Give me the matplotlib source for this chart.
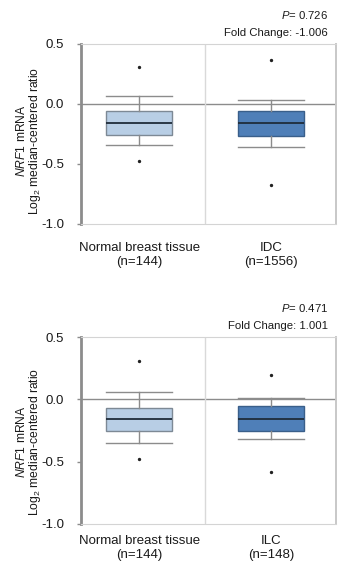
import matplotlib
matplotlib.use("Agg")
import matplotlib.pyplot as plt

plt.rcParams['font.family'] = ['Liberation Sans', 'DejaVu Sans']
plt.rcParams['mathtext.fontset'] = 'custom'
plt.rcParams['mathtext.rm'] = 'Liberation Sans'
plt.rcParams['mathtext.it'] = 'Liberation Sans:italic'

# --- data ---
groups_top = ["Normal breast tissue\n(n=144)", "IDC\n(n=1556)"]
groups_bot = ["Normal breast tissue\n(n=144)", "ILC\n(n=148)"]

# whisker low, q1, median, q3, whisker high
whislo_top = [-0.343, -0.355]
q1_top = [-0.255, -0.263]
med_top = [-0.157, -0.158]
q3_top = [-0.062, -0.056]
whishi_top = [0.063, 0.034]
fliers_top = [[0.305, -0.473], [0.367, -0.672]]

whislo_bot = [-0.347, -0.316]
q1_bot = [-0.258, -0.258]
med_bot = [-0.155, -0.155]
q3_bot = [-0.066, -0.056]
whishi_bot = [0.061, 0.012]
fliers_bot = [[0.307, -0.476], [0.198, -0.583]]

pvals = ["0.726", "0.471"]
fold = ["-1.006", "1.001"]

face_cols = ["#b8cee5", "#4f7fb8"]
edge_cols = ["#7d8995", "#3a5f8a"]


def stats(lo, a, m, b, hi, fl):
    return [dict(whislo=lo[i], q1=a[i], med=m[i], q3=b[i], whishi=hi[i],
                 fliers=fl[i]) for i in range(len(m))]


fig = plt.figure(figsize=(3.39, 5.67), dpi=100)
W, H = 339, 567


def px_axes(l, t, r, b):
    return fig.add_axes([l / W, 1 - b / H, (r - l) / W, (b - t) / H])


ax1 = px_axes(81, 44, 336, 224)
ax2 = px_axes(81, 337, 336, 524)

panels = [
    (ax1, stats(whislo_top, q1_top, med_top, q3_top, whishi_top, fliers_top), groups_top, 0, 13, 141),
    (ax2, stats(whislo_bot, q1_bot, med_bot, q3_bot, whishi_bot, fliers_bot), groups_bot, 1, 8, 442),
]

for ax, st, labels, k, xpad, ylab_y in panels:
    ax.axhline(0, color="#8c8c8c", lw=1, zorder=1)
    ax.axvline(0.5, color="#d9d9d9", lw=1, zorder=1)
    bp = ax.bxp(st, positions=[0, 1], widths=0.5, capwidths=0.5,
                patch_artist=True, showfliers=True,
                whiskerprops=dict(color="#8c8c8c", lw=1),
                capprops=dict(color="#8c8c8c", lw=1),
                medianprops=dict(color="#1f2c3a", lw=1.3),
                flierprops=dict(marker="o", markersize=1.4,
                                markerfacecolor="#222222",
                                markeredgecolor="#222222"))
    for i, box in enumerate(bp["boxes"]):
        box.set_facecolor(face_cols[i])
        box.set_edgecolor(edge_cols[i])
        box.set_linewidth(1)
        box.set_zorder(2)

    ax.set_xlim(-0.44, 1.49)
    ax.set_ylim(-1.0, 0.5)
    ax.set_yticks([0.5, 0.0, -0.5, -1.0])
    ax.set_yticklabels(["0.5", "0.0", "-0.5", "-1.0"])
    ax.set_xticks([0, 1])
    ax.set_xticklabels(labels, fontsize=9.5, color="#1a1a1a")
    ax.tick_params(axis="x", length=0, pad=xpad)
    ax.tick_params(axis="y", length=3, width=1, color="#8c8c8c",
                   labelsize=9.5, pad=9, labelcolor="#1a1a1a")

    ax.spines["left"].set_color("#8c8c8c")
    ax.spines["left"].set_linewidth(2)
    ax.spines["bottom"].set_color("#d4d4d4")
    ax.spines["top"].set_color("#d4d4d4")
    ax.spines["right"].set_color("#c8c8c8")
    ax.spines["right"].set_linewidth(1.4)

    # y label: two lines
    fig.text(22 / W, 1 - ylab_y / H, r"$\mathit{NRF1}$ mRNA", rotation=90,
             ha="center", va="center", fontsize=8.7, color="#1a1a1a")
    fig.text(35 / W, 1 - ylab_y / H, r"Log$_2$ median-centered ratio",
             rotation=90, ha="center", va="center", fontsize=8.7,
             color="#1a1a1a")

    top_px = [44, 337][k]
    fig.text(328 / W, 1 - (top_px - 29) / H, r"$\mathit{P}$= " + pvals[k],
             ha="right", va="center", fontsize=8.2, color="#1a1a1a")
    fig.text(328 / W, 1 - (top_px - 11) / H, "Fold Change: " + fold[k],
             ha="right", va="center", fontsize=8.2, color="#1a1a1a")

fig.savefig("out.png", dpi=100)
